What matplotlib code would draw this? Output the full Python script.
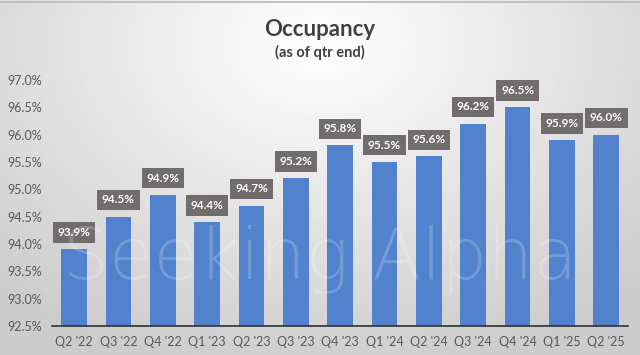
import numpy as np
import matplotlib.pyplot as plt

quarters = ["Q2 '22", "Q3 '22", "Q4 '22", "Q1 '23", "Q2 '23", "Q3 '23", "Q4 '23",
            "Q1 '24", "Q2 '24", "Q3 '24", "Q4 '24", "Q1 '25", "Q2 '25"]
occupancy = [93.9, 94.5, 94.9, 94.4, 94.7, 95.2, 95.8, 95.5, 95.6, 96.2, 96.5, 95.9, 96.0]
y_ticks = [92.5, 93.0, 93.5, 94.0, 94.5, 95.0, 95.5, 96.0, 96.5, 97.0]

plt.rcParams['font.family'] = ['Lato', 'DejaVu Sans']

fig = plt.figure(figsize=(6.4, 3.55), dpi=100)

# radial grey background, lightest behind the title
bg = fig.add_axes([0, 0, 1, 1])
gx, gy = np.meshgrid(np.linspace(-1, 1, 320), np.linspace(-1, 1, 180))
r = np.sqrt((gx / 1.15) ** 2 + ((gy + 0.75) / 1.5) ** 2)
shade = np.clip(1.0 - 0.16 * r, 0.80, 0.99)
bg.imshow(shade, cmap='gray', vmin=0, vmax=1, aspect='auto', extent=[0, 1, 0, 1])
bg.axhline(0.995, color='#b8b8b8', linewidth=1.2)
bg.set_xlim(0, 1)
bg.set_ylim(0, 1)
bg.axis('off')

ax = fig.add_axes([0.081, 0.082, 0.901, 0.693])
ax.patch.set_alpha(0)
x = np.arange(len(quarters))
ax.bar(x, occupancy, width=0.58, color='#5281CD')
ax.set_ylim(92.5, 97.0)
ax.set_xlim(-0.5, len(quarters) - 0.5)
ax.set_yticks(y_ticks)
ax.set_yticklabels([f"{v:.1f}%" for v in y_ticks])
ax.set_xticks(x)
ax.set_xticklabels(quarters)
ax.tick_params(length=0, labelsize=9, colors='#595959', pad=7)
for s in ['top', 'right', 'left']:
    ax.spines[s].set_visible(False)
ax.spines['bottom'].set_color('#303030')
ax.spines['bottom'].set_linewidth(1.2)

for xi, v in zip(x, occupancy):
    ax.annotate(f"{v:.1f}%", (xi, v), xytext=(0, 12), textcoords='offset points',
                ha='center', va='center', color='white', fontsize=8.5, fontweight='bold',
                bbox=dict(boxstyle='square,pad=0.4', facecolor='#706d6c', edgecolor='none'))

# watermark
fig.text(0.50, 0.27, "Seeking Alpha", ha='center', va='center', fontsize=52,
         family='DejaVu Sans', fontweight='light', color='white', alpha=0.2, zorder=5)

fig.text(0.5, 0.918, "Occupancy", ha='center', va='center', fontsize=16,
         fontweight='bold', color='#404040')
fig.text(0.5, 0.852, "(as of qtr end)", ha='center', va='center', fontsize=10.5,
         fontweight='bold', color='#404040')

fig.savefig('out.png', dpi=100)
